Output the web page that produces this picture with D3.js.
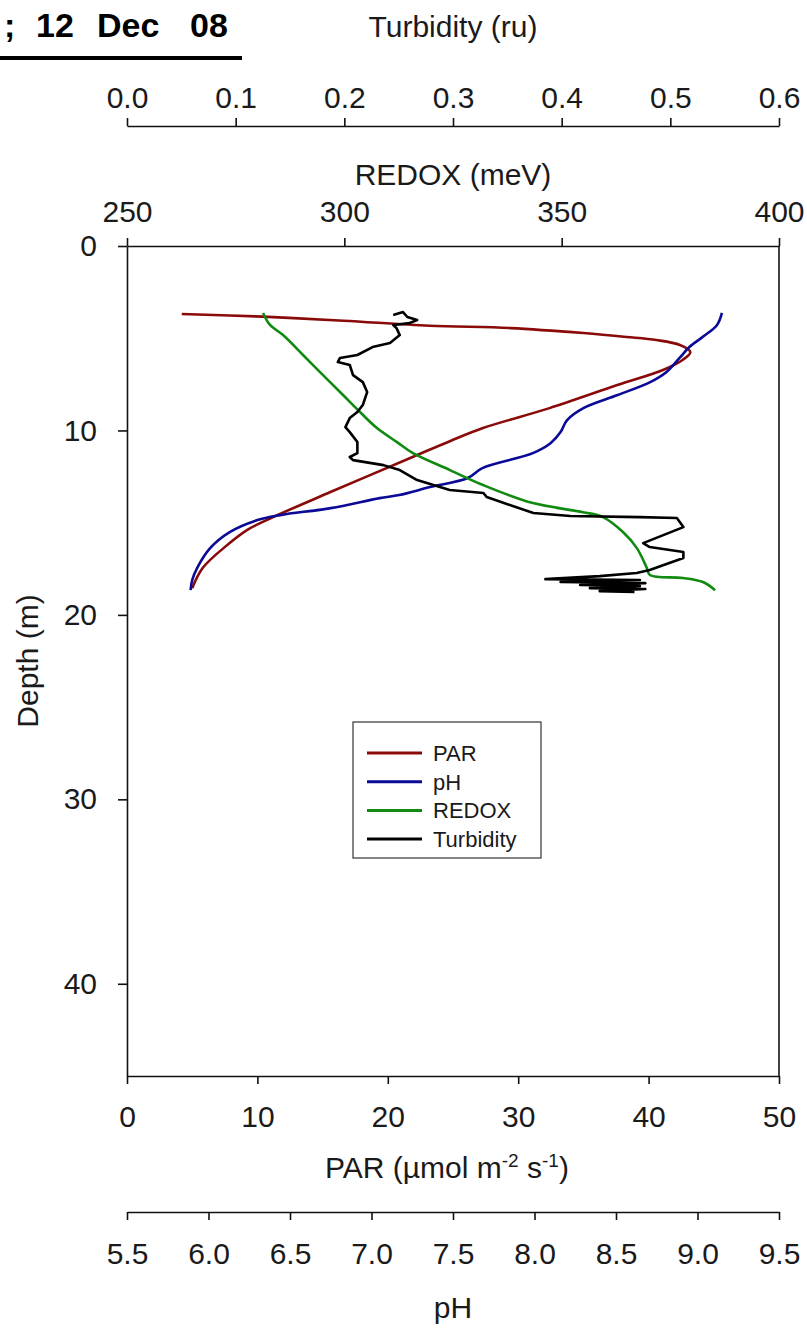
<!DOCTYPE html>
<html>
<head>
<meta charset="utf-8">
<script src="https://cdn.jsdelivr.net/npm/d3@7"></script>
<style>
  html, body { margin: 0; padding: 0; background: #fff; }
  svg { display: block; font-family: "Liberation Sans", Arial, sans-serif; }
  .axis path, .axis line { stroke: #111; stroke-width: 1.6px; }
  .axis text { font-size: 30px; fill: #1a1a1a; font-family: "Liberation Sans", Arial, sans-serif; }
  .title { font-size: 30px; fill: #1a1a1a; }
</style>
</head>
<body>
<div id="chart"></div>
<script>
var width = 807, height = 1328;

// depth profile, 12 Dec 08 (depth in m)
var parDepth = [3.69, 3.83, 4.05, 4.32, 4.45, 4.72, 4.93, 5.10, 5.37, 5.75, 6.18, 6.72, 7.54, 8.79, 9.87, 10.57, 11.44, 13.34, 14.70, 15.40, 16.38, 17.46, 18.55];
var parValue = [4.2, 10.4, 16.6, 23.2, 29.4, 35.0, 38.3, 40.6, 42.4, 43.2, 42.6, 41.1, 37.6, 32.4, 27.3, 24.8, 21.9, 15.6, 11.2, 9.2, 7.4, 5.8, 5.0];

var phDepth = [3.63, 4.28, 4.94, 5.48, 6.07, 6.83, 7.38, 8.08, 8.79, 9.44, 10.09, 10.68, 11.23, 12.04, 12.58, 13.07, 13.50, 13.67, 14.21, 14.59, 14.86, 15.51, 16.38, 17.46, 18.11, 18.66];
var phValue = [9.15, 9.12, 9.03, 8.95, 8.89, 8.81, 8.71, 8.51, 8.30, 8.20, 8.16, 8.10, 7.99, 7.68, 7.59, 7.36, 7.17, 7.05, 6.75, 6.44, 6.30, 6.13, 6.01, 5.93, 5.90, 5.89];

var redoxDepth = [3.63, 4.28, 4.83, 5.91, 7.00, 8.08, 9.00, 9.87, 10.63, 11.23, 12.15, 12.96, 13.94, 14.43, 14.70, 15.51, 16.38, 17.46, 17.84, 18.00, 18.22, 18.66];
var redoxValue = [281.3, 282.9, 285.9, 290.5, 295.1, 299.7, 303.6, 307.5, 312.1, 315.8, 324.3, 331.9, 343.4, 354.9, 359.5, 364.1, 367.3, 369.6, 370.3, 377.9, 382.5, 385.3];

var turbDepth = [3.74, 3.58, 3.85, 4.01, 4.18, 4.28, 4.45, 4.83, 5.26, 5.48, 5.91, 6.07, 6.29, 6.45, 7.00, 7.38, 7.92, 8.62, 9.00, 9.33, 9.82, 10.09, 10.63, 11.23, 11.44, 11.61, 11.88, 12.15, 12.69, 12.96, 13.23, 13.39, 13.61, 14.48, 14.64, 14.70, 14.75, 15.24, 16.11, 16.32, 16.59, 16.92, 17.57, 17.73, 17.90, 18.06, 18.11, 18.22, 18.28, 18.38, 18.44, 18.55, 18.60, 18.71, 18.76];
var turbValue = [0.245, 0.254, 0.258, 0.267, 0.260, 0.245, 0.248, 0.251, 0.242, 0.226, 0.212, 0.196, 0.194, 0.205, 0.208, 0.217, 0.221, 0.217, 0.212, 0.205, 0.201, 0.205, 0.212, 0.212, 0.205, 0.208, 0.236, 0.251, 0.267, 0.282, 0.297, 0.328, 0.331, 0.374, 0.408, 0.472, 0.506, 0.512, 0.475, 0.481, 0.512, 0.512, 0.481, 0.469, 0.435, 0.385, 0.472, 0.399, 0.477, 0.417, 0.472, 0.426, 0.477, 0.435, 0.467];

var depthTicks = [0, 10, 20, 30, 40];
var parTicks = [0, 10, 20, 30, 40, 50];
var phTicks = [5.5, 6.0, 6.5, 7.0, 7.5, 8.0, 8.5, 9.0, 9.5];
var redoxTicks = [250, 300, 350, 400];
var turbTicks = [0.0, 0.1, 0.2, 0.3, 0.4, 0.5, 0.6];

var seriesNames = ["PAR", "pH", "REDOX", "Turbidity"];
var seriesColors = ["#8a0a0a", "#0a0a96", "#108a10", "#000000"];

var plotLeft = 127, plotRight = 779, plotTop = 246, plotBottom = 1076;

var svg = d3.select("#chart").append("svg")
    .attr("width", width)
    .attr("height", height);

svg.append("rect").attr("width", width).attr("height", height).attr("fill", "#fff");

var y = d3.scaleLinear().domain([0, 45]).range([plotTop, plotBottom]);
var xPar = d3.scaleLinear().domain([0, 50]).range([plotLeft, plotRight]);
var xPh = d3.scaleLinear().domain([5.5, 9.5]).range([plotLeft, plotRight]);
var xRedox = d3.scaleLinear().domain([250, 400]).range([plotLeft, plotRight]);
var xTurb = d3.scaleLinear().domain([0, 0.6]).range([plotLeft, plotRight]);

// title (the original is cut off on the left)
var title = svg.append("text")
    .attr("y", 37)
    .style("font-size", "34px")
    .style("font-weight", "bold")
    .attr("fill", "#000");
title.append("tspan").attr("x", 4).text(";");
title.append("tspan").attr("x", 36).text("12");
title.append("tspan").attr("x", 97).text("Dec");
title.append("tspan").attr("x", 190).text("08");
svg.append("rect").attr("x", 0).attr("y", 56).attr("width", 242).attr("height", 4).attr("fill", "#000");

// axes
svg.append("g").attr("class", "axis")
    .attr("transform", "translate(0,126)")
    .call(d3.axisTop(xTurb).tickValues(turbTicks).tickFormat(d3.format(".1f")).tickSize(8).tickSizeOuter(0).tickPadding(10));

svg.append("g").attr("class", "axis")
    .attr("transform", "translate(0," + plotTop + ")")
    .call(d3.axisTop(xRedox).tickValues(redoxTicks).tickSize(8).tickSizeOuter(0).tickPadding(16));

svg.append("g").attr("class", "axis")
    .attr("transform", "translate(" + plotLeft + ",0)")
    .call(d3.axisLeft(y).tickValues(depthTicks).tickSize(9).tickSizeOuter(0).tickPadding(21));

svg.append("g").attr("class", "axis")
    .attr("transform", "translate(0," + plotBottom + ")")
    .call(d3.axisBottom(xPar).tickValues(parTicks).tickSize(8).tickSizeOuter(0).tickPadding(22));

svg.append("g").attr("class", "axis")
    .attr("transform", "translate(0,1212)")
    .call(d3.axisBottom(xPh).tickValues(phTicks).tickFormat(d3.format(".1f")).tickSize(8).tickSizeOuter(0).tickPadding(23));

svg.append("line")
    .attr("x1", plotRight).attr("x2", plotRight).attr("y1", plotTop).attr("y2", plotBottom)
    .attr("stroke", "#111").attr("stroke-width", 1.6);

// axis titles
var mid = (plotLeft + plotRight) / 2;
svg.append("text").attr("class", "title").attr("x", mid).attr("y", 37).attr("text-anchor", "middle").text("Turbidity (ru)");
svg.append("text").attr("class", "title").attr("x", mid).attr("y", 185).attr("text-anchor", "middle").text("REDOX (meV)");
svg.append("text").attr("class", "title").attr("text-anchor", "middle")
    .attr("transform", "translate(38," + ((plotTop + plotBottom) / 2) + ") rotate(-90)")
    .text("Depth (m)");
var parTitle = svg.append("text").attr("class", "title").attr("x", mid - 6).attr("y", 1178).attr("text-anchor", "middle");
parTitle.append("tspan").text("PAR (\u00b5mol m");
parTitle.append("tspan").attr("dy", -11).style("font-size", "19px").text("-2");
parTitle.append("tspan").attr("dy", 11).text(" s");
parTitle.append("tspan").attr("dy", -11).style("font-size", "19px").text("-1");
parTitle.append("tspan").attr("dy", 11).text(")");
svg.append("text").attr("class", "title").attr("x", mid).attr("y", 1318).attr("text-anchor", "middle").text("pH");

// profiles
function profile(xs, ys, xScale, color, curve) {
    var pts = xs.map(function (v, i) { return [xScale(v), y(ys[i])]; });
    svg.append("path")
        .datum(pts)
        .attr("fill", "none")
        .attr("stroke", color)
        .attr("stroke-width", 2.6)
        .attr("stroke-linejoin", "round")
        .attr("d", d3.line().curve(curve)(pts));
}
profile(parValue, parDepth, xPar, seriesColors[0], d3.curveCatmullRom.alpha(0.5));
profile(phValue, phDepth, xPh, seriesColors[1], d3.curveCatmullRom.alpha(0.5));
profile(redoxValue, redoxDepth, xRedox, seriesColors[2], d3.curveCatmullRom.alpha(0.5));
profile(turbValue, turbDepth, xTurb, seriesColors[3], d3.curveLinear);

// legend
var legend = svg.append("g").attr("transform", "translate(353,722)");
legend.append("rect").attr("width", 188).attr("height", 136)
    .attr("fill", "#fff").attr("stroke", "#333").attr("stroke-width", 1.2);
seriesNames.forEach(function (name, i) {
    var ry = 31 + i * 28.7;
    legend.append("line").attr("x1", 14).attr("x2", 69).attr("y1", ry).attr("y2", ry)
        .attr("stroke", seriesColors[i]).attr("stroke-width", 3);
    legend.append("text").attr("x", 80).attr("y", ry + 8)
        .style("font-size", "22px").attr("fill", "#1a1a1a").text(name);
});
</script>
</body>
</html>
